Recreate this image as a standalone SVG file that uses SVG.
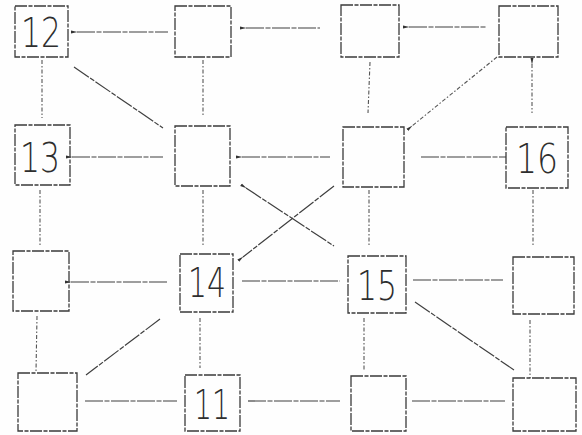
<svg xmlns="http://www.w3.org/2000/svg" width="582" height="435" viewBox="0 0 582 435">
<style>
.box{fill:none;stroke:#3a3a3a;stroke-width:1.3;stroke-dasharray:12 1.5 4 1.5}
.c{fill:none;stroke:#3f3f3f;stroke-width:1.2;stroke-dasharray:18 1.5 5 1.5}
.v{fill:none;stroke:#555;stroke-width:1.1;stroke-dasharray:4 2 1.5 2}
.t{font-family:"DejaVu Sans",sans-serif;font-weight:200;font-size:40px;fill:#2e2e2e;text-anchor:middle}
</style>
<defs>
<marker id="ah" viewBox="0 0 10 6" refX="1" refY="3" markerWidth="7" markerHeight="4" orient="auto-start-reverse" markerUnits="userSpaceOnUse">
<path d="M0,3 L10,0.8 L10,5.2 Z" fill="#333"/>
</marker>
</defs>
<rect width="582" height="435" fill="#fefefe"/>
<g id="connectors">
<line class="c" x1="77" y1="32" x2="168" y2="32" marker-start="url(#ah)"/>
<line class="c" x1="246" y1="28" x2="320" y2="28" marker-start="url(#ah)"/>
<line class="c" x1="409" y1="27" x2="487" y2="27" marker-start="url(#ah)"/>
<line class="v" x1="42" y1="60" x2="42" y2="118"/>
<line class="v" x1="203" y1="60" x2="203" y2="117"/>
<line class="v" x1="370" y1="62" x2="368" y2="113"/>
<line class="v" x1="532" y1="64" x2="532" y2="113" marker-start="url(#ah)"/>
<line class="c" x1="74" y1="67" x2="163" y2="128"/>
<line class="v" x1="497" y1="57" x2="412" y2="126" marker-end="url(#ah)"/>
<line class="c" x1="72" y1="157" x2="163" y2="157" marker-start="url(#ah)"/>
<line class="c" x1="242" y1="157" x2="330" y2="157" marker-start="url(#ah)"/>
<line class="c" x1="421" y1="157" x2="506" y2="157"/>
<line class="c" x1="246" y1="188" x2="334" y2="246" marker-start="url(#ah)"/>
<line class="c" x1="334" y1="186" x2="243" y2="257" marker-end="url(#ah)"/>
<line class="v" x1="40" y1="190" x2="40" y2="245"/>
<line class="v" x1="203" y1="190" x2="203" y2="246"/>
<line class="v" x1="369" y1="190" x2="369" y2="245"/>
<line class="v" x1="533" y1="190" x2="533" y2="247"/>
<line class="c" x1="71" y1="282" x2="167" y2="282" marker-start="url(#ah)"/>
<line class="c" x1="242" y1="281" x2="340" y2="281"/>
<line class="c" x1="413" y1="280" x2="503" y2="280"/>
<line class="c" x1="160" y1="319" x2="86" y2="375"/>
<line class="c" x1="415" y1="302" x2="514" y2="370"/>
<line class="v" x1="37" y1="316" x2="36" y2="372"/>
<line class="v" x1="200" y1="318" x2="200" y2="368"/>
<line class="v" x1="364" y1="318" x2="364" y2="370"/>
<line class="v" x1="530" y1="320" x2="530" y2="378"/>
<line class="c" x1="85" y1="401" x2="177" y2="401"/>
<line class="c" x1="248" y1="401" x2="340" y2="401"/>
<line class="c" x1="412" y1="401" x2="505" y2="401"/>
</g>
<g id="n12"><rect class="box" x="15" y="6" width="53" height="51"/><text class="t" x="41" y="47" textLength="40" lengthAdjust="spacingAndGlyphs">12</text></g>
<g id="n1b"><rect class="box" x="175" y="6" width="56" height="51"/></g>
<g id="n1c"><rect class="box" x="341" y="5" width="58" height="52"/></g>
<g id="n1d"><rect class="box" x="499" y="6" width="59" height="51"/></g>
<g id="n13"><rect class="box" x="15" y="125" width="55" height="60"/><text class="t" x="40" y="172" textLength="40" lengthAdjust="spacingAndGlyphs">13</text></g>
<g id="n2b"><rect class="box" x="175" y="126" width="55" height="60"/></g>
<g id="n2c"><rect class="box" x="343" y="127" width="61" height="60"/></g>
<g id="n16"><rect class="box" x="506" y="127" width="62" height="61"/><text class="t" x="537" y="173" textLength="42" lengthAdjust="spacingAndGlyphs">16</text></g>
<g id="n3a"><rect class="box" x="13" y="251" width="56" height="60"/></g>
<g id="n14"><rect class="box" x="180" y="254" width="53" height="58"/><text class="t" x="207" y="297" textLength="38" lengthAdjust="spacingAndGlyphs">14</text></g>
<g id="n15"><rect class="box" x="348" y="256" width="58" height="57"/><text class="t" x="377" y="300" textLength="40" lengthAdjust="spacingAndGlyphs">15</text></g>
<g id="n3d"><rect class="box" x="513" y="257" width="61" height="57"/></g>
<g id="n4a"><rect class="box" x="18" y="373" width="59" height="58"/></g>
<g id="n11"><rect class="box" x="185" y="375" width="55" height="56"/><text class="t" x="212" y="419" textLength="36" lengthAdjust="spacingAndGlyphs">11</text></g>
<g id="n4c"><rect class="box" x="351" y="376" width="55" height="55"/></g>
<g id="n4d"><rect class="box" x="513" y="378" width="63" height="53"/></g>
</svg>
